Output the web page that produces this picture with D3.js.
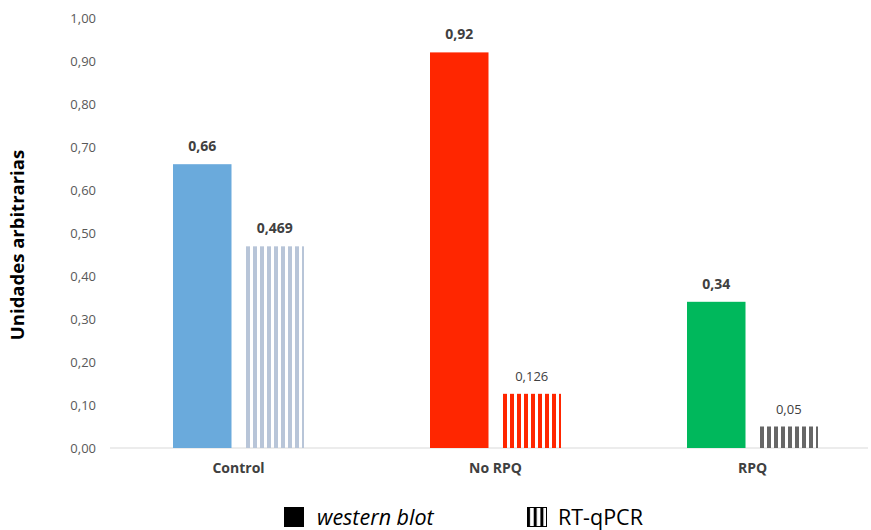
<!DOCTYPE html>
<html>
<head>
<meta charset="utf-8">
<script src="https://cdn.jsdelivr.net/npm/d3@7/dist/d3.min.js"></script>
<style>
  body { margin: 0; background: #fff; }
  svg { display: block; font-family: "Open Sans", "Noto Sans", sans-serif; }
</style>
</head>
<body>
<svg id="chart" width="871" height="530"></svg>
<script>
// Data
const categories = ["Control", "No RPQ", "RPQ"];
const westernBlot = [0.66, 0.92, 0.34];
const rtqpcr = [0.469, 0.126, 0.05];
const westernLabels = ["0,66", "0,92", "0,34"];
const rtqpcrLabels = ["0,469", "0,126", "0,05"];
const yTicks = [0, 0.1, 0.2, 0.3, 0.4, 0.5, 0.6, 0.7, 0.8, 0.9, 1.0];
const seriesNames = ["western blot", "RT-qPCR"];

const solidColors = ["#6aaadc", "#ff2600", "#00b85c"];
const stripeColors = ["#b8c5d8", "#ff2600", "#666666"];

const svg = d3.select("#chart");
const defs = svg.append("defs");

// Vertical stripe fills, one per category
stripeColors.forEach((c, i) => {
  const p = defs.append("pattern")
    .attr("id", "stripe" + i)
    .attr("patternUnits", "userSpaceOnUse")
    .attr("x", 0.5)
    .attr("width", 7).attr("height", 10);
  p.append("rect").attr("x", 0).attr("y", 0).attr("width", 4).attr("height", 10).attr("fill", c);
});
{
  const p = defs.append("pattern")
    .attr("id", "stripeLegend")
    .attr("patternUnits", "userSpaceOnUse")
    .attr("x", 527).attr("width", 6.7).attr("height", 10);
  p.append("rect").attr("x", 0).attr("y", 0).attr("width", 3).attr("height", 10).attr("fill", "#000");
}

const y = d3.scaleLinear().domain([0, 1]).range([448, 18]);
const x0 = d3.scaleBand().domain(categories).range([110, 881]).padding(0);
const x1 = d3.scaleBand().domain(seriesNames).range([-65.5, 65.5]).paddingInner(14 / 72.5);

// Y axis tick labels
const yAxis = d3.axisLeft(y).tickValues(yTicks)
  .tickFormat(d => d3.format(".2f")(d).replace(".", ","))
  .tickSize(0).tickPadding(0);
const ya = svg.append("g").attr("transform", "translate(96,0)").call(yAxis);
ya.select(".domain").remove();
ya.selectAll("text").attr("fill", "#595959").style("font-size", "13px")
  .style("font-family", "'Open Sans', sans-serif");

// Baseline
svg.append("line").attr("x1", 110).attr("x2", 868)
  .attr("y1", y(0)).attr("y2", y(0))
  .attr("stroke", "#d9d9d9").attr("stroke-width", 1);

// Category labels
const xAxis = d3.axisBottom(x0).tickSize(0).tickPadding(0);
const xa = svg.append("g").attr("transform", "translate(0,463)").call(xAxis);
xa.select(".domain").remove();
xa.selectAll("text").attr("fill", "#404040").style("font-size", "14px")
  .style("font-weight", "bold").style("font-family", "'Open Sans', sans-serif");

// Bars
const groups = svg.append("g").selectAll("g").data(categories).join("g")
  .attr("transform", d => `translate(${x0(d) + x0.bandwidth() / 2},0)`);

groups.append("rect")
  .attr("x", x1("western blot"))
  .attr("width", x1.bandwidth())
  .attr("y", (d, i) => y(westernBlot[i]))
  .attr("height", (d, i) => y(0) - y(westernBlot[i]))
  .attr("fill", (d, i) => solidColors[i]);

groups.append("rect")
  .attr("x", x1("RT-qPCR"))
  .attr("width", x1.bandwidth())
  .attr("y", (d, i) => y(rtqpcr[i]))
  .attr("height", (d, i) => y(0) - y(rtqpcr[i]))
  .attr("fill", (d, i) => `url(#stripe${i})`);

// Value labels
groups.append("text")
  .attr("x", x1("western blot") + x1.bandwidth() / 2)
  .attr("y", (d, i) => y(westernBlot[i]) - 13)
  .attr("text-anchor", "middle")
  .attr("fill", "#404040").style("font-size", "14px").style("font-weight", "bold")
  .text((d, i) => westernLabels[i]);

groups.append("text")
  .attr("x", x1("RT-qPCR") + x1.bandwidth() / 2)
  .attr("y", (d, i) => y(rtqpcr[i]) - 13)
  .attr("text-anchor", "middle")
  .attr("fill", "#404040").style("font-size", (d, i) => i === 0 ? "14px" : "13px")
  .style("font-weight", (d, i) => i === 0 ? "bold" : "normal")
  .text((d, i) => rtqpcrLabels[i]);

// Y axis title
svg.append("text")
  .attr("transform", "translate(24,245) rotate(-90)")
  .attr("text-anchor", "middle")
  .attr("fill", "#000").style("font-size", "18.5px").style("font-weight", "bold")
  .text("Unidades arbitrarias");

// Legend
const legend = svg.append("g");
legend.append("rect").attr("x", 284).attr("y", 507).attr("width", 20).attr("height", 20).attr("fill", "#000");
legend.append("text").attr("x", 317).attr("y", 525)
  .style("font-size", "21.5px").style("font-style", "italic").attr("fill", "#000")
  .text(seriesNames[0]);
legend.append("rect").attr("x", 527.5).attr("y", 507.5).attr("width", 19).attr("height", 19)
  .attr("fill", "url(#stripeLegend)").attr("stroke", "#000").attr("stroke-width", 1);
legend.append("text").attr("x", 558).attr("y", 525)
  .style("font-size", "21.5px").attr("fill", "#000")
  .text(seriesNames[1]);
</script>
</body>
</html>
